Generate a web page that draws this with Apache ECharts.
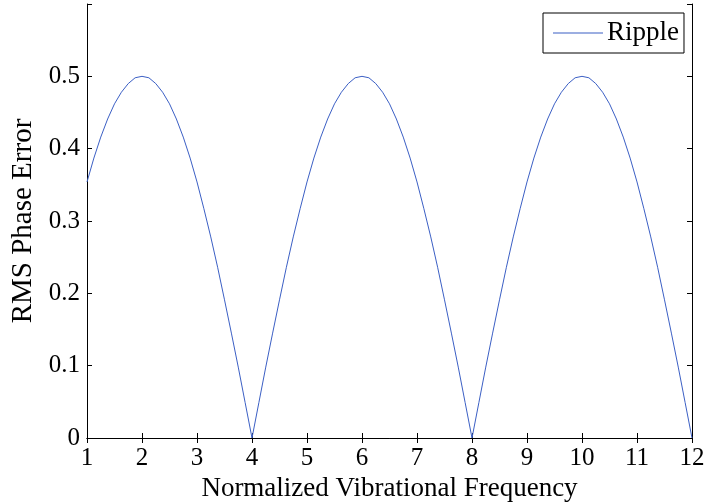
<!DOCTYPE html>
<html><head><meta charset="utf-8">
<script src="https://cdn.jsdelivr.net/npm/echarts@6/dist/echarts.min.js"></script>
<style>html,body{margin:0;padding:0;background:#fff}#c{width:717px;height:502px}</style>
</head><body><div id="c"></div>
<script>
var freq = [1,1.125,1.25,1.375,1.5,1.625,1.75,1.875,2,2.125,2.25,2.375,2.5,2.625,2.75,2.875,3,3.125,3.25,3.375,3.5,3.625,3.75,3.875,4,
4.125,4.25,4.375,4.5,4.625,4.75,4.875,5,5.125,5.25,5.375,5.5,5.625,5.75,5.875,6,6.125,6.25,6.375,6.5,6.625,6.75,6.875,7,7.125,7.25,7.375,7.5,7.625,7.75,7.875,8,
8.125,8.25,8.375,8.5,8.625,8.75,8.875,9,9.125,9.25,9.375,9.5,9.625,9.75,9.875,10,10.125,10.25,10.375,10.5,10.625,10.75,10.875,11,11.125,11.25,11.375,11.5,11.625,11.75,11.875,12];
var ripple = [0.354,0.387,0.416,0.441,0.462,0.478,0.490,0.498,0.500,0.498,0.490,0.478,0.462,0.441,0.416,0.387,0.354,0.317,0.278,0.236,0.191,0.145,0.098,0.049,0,
0.049,0.098,0.145,0.191,0.236,0.278,0.317,0.354,0.387,0.416,0.441,0.462,0.478,0.490,0.498,0.500,0.498,0.490,0.478,0.462,0.441,0.416,0.387,0.354,0.317,0.278,0.236,0.191,0.145,0.098,0.049,0,
0.049,0.098,0.145,0.191,0.236,0.278,0.317,0.354,0.387,0.416,0.441,0.462,0.478,0.490,0.498,0.500,0.498,0.490,0.478,0.462,0.441,0.416,0.387,0.354,0.317,0.278,0.236,0.191,0.145,0.098,0.049,0];
var xTitle = 'Normalized Vibrational Frequency';
var yTitle = 'RMS Phase Error';
var seriesName = 'Ripple';

var font = 'Liberation Serif';
var chart = echarts.init(document.getElementById('c'), null, {renderer:'canvas'});
var pts = freq.map(function(f,i){return [f, ripple[i]];});
var axLine = {show:true, lineStyle:{color:'#000', width:1}};
var tick = {show:true, inside:true, length:5, lineStyle:{color:'#000'}};
chart.setOption({
  animation:false,
  backgroundColor:'#fff',
  grid:{left:87, right:25, top:4, bottom:64, containLabel:false, outerBoundsMode:'none'},
  legend:{
    left:543, top:13, orient:'vertical',
    data:[{name:seriesName, icon:'rect'}],
    itemWidth:50, itemHeight:1, itemGap:0,
    padding:[6,5,6,10],
    borderColor:'#000', borderWidth:1, backgroundColor:'#fff',
    textStyle:{fontFamily:font, fontSize:27, lineHeight:28, color:'#000', padding:[0,0,0,-1]}
  },
  xAxis:[
    {type:'value', min:1, max:12, interval:1, position:'bottom',
     axisLine:axLine, axisTick:tick, splitLine:{show:false},
     axisLabel:{fontFamily:font, fontSize:25, color:'#000', margin:8},
     name:xTitle, nameLocation:'middle', nameGap:36,
     nameTextStyle:{fontFamily:font, fontSize:27, color:'#000'}},
    {type:'value', min:1, max:12, interval:1, position:'top',
     axisLine:axLine, axisTick:tick, axisLabel:{show:false}, splitLine:{show:false}}
  ],
  yAxis:[
    {type:'value', min:0, max:0.6, interval:0.1, position:'left',
     axisLine:axLine, axisTick:tick, splitLine:{show:false},
     axisLabel:{fontFamily:font, fontSize:25, color:'#000', margin:7,
       formatter:function(v){return v>0.55?'':(Math.round(v*10)/10).toString();}},
     name:yTitle, nameLocation:'middle', nameGap:48,
     nameTextStyle:{fontFamily:font, fontSize:29, color:'#000'}},
    {type:'value', min:0, max:0.6, interval:0.1, position:'right',
     axisLine:axLine, axisTick:tick, axisLabel:{show:false}, splitLine:{show:false}}
  ],
  series:[{
    name:seriesName, type:'line', data:pts, showSymbol:false, symbol:'none',
    lineStyle:{color:'#3b5fc4', width:1}, itemStyle:{color:'#3b5fc4'}
  }]
});
</script></body></html>
